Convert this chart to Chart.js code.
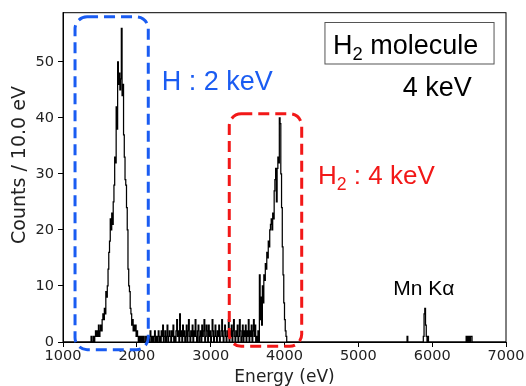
<!DOCTYPE html>
<html>
<head>
<meta charset="utf-8">
<script src="https://cdn.jsdelivr.net/npm/chart.js@4.4.0/dist/chart.umd.min.js"></script>
<style>
  html, body { margin: 0; padding: 0; background: #fff; }
  #wrap { width: 526px; height: 386px; }
</style>
</head>
<body>
<div id="wrap"><canvas id="spectrum"></canvas></div>
<script>
// histogram, 10 eV bins
const binWidth = 10;
const energyMin = 1000;
const energyMax = 7000;
const countMax = 58.8;
const xTicks = [1000, 2000, 3000, 4000, 5000, 6000, 7000];
const yTicks = [0, 10, 20, 30, 40, 50];

// H peak (~2 keV), 1380 - 2050 eV
const hStart = 1380;
const hCounts = [
  1, 0, 0, 1, 0, 1, 2, 1, 2, 1,
  3, 1, 2, 3, 2, 4, 5, 4, 6, 5,
  9, 8, 10, 13, 16, 18, 22, 20, 23, 21,
  25, 28, 33, 32, 42, 38, 50, 46, 48, 45,
  47, 56, 44, 46, 37, 33, 29, 28, 24, 20,
  13, 10, 9, 6, 5, 3, 4, 2, 3, 2,
  3, 1, 2, 1, 0, 1, 0, 1
];

// background between the peaks, 2060 - 3650 eV
const bgStart = 2060;
const bgCounts = [
  0, 1, 0, 1, 0, 0, 1, 0, 1, 0,
  1, 0, 2, 1, 0, 1, 0, 1, 2, 0,
  1, 0, 1, 2, 0, 1, 0, 2, 1, 3,
  0, 1, 2, 0, 1, 3, 0, 1, 2, 1,
  0, 2, 1, 3, 0, 1, 0, 2, 4, 1,
  2, 0, 5, 1, 2, 0, 3, 1, 2, 0,
  1, 3, 0, 2, 4, 1, 0, 2, 1, 3,
  0, 2, 1, 4, 1, 0, 2, 3, 0, 1,
  2, 0, 3, 1, 2, 4, 0, 1, 3, 2,
  0, 3, 1, 2, 0, 1, 4, 2, 0, 1,
  3, 1, 0, 2, 1, 3, 0, 1, 2, 4,
  1, 0, 2, 3, 1, 0, 2, 1, 4, 0,
  2, 1, 3, 0, 2, 4, 1, 0, 2, 1,
  3, 0, 1, 4, 2, 0, 1, 3, 0, 2,
  1, 3, 0, 2, 1, 4, 0, 2, 1, 3,
  0, 2, 4, 1, 3, 0, 1, 0, 2, 0
];

// H2 peak (~4 keV), 3660 - 4030 eV
const h2Start = 3660;
const h2Counts = [
  12, 4, 8, 3, 10, 7, 12, 11, 14, 13,
  16, 15, 18, 17, 20, 21, 22, 20, 23, 22,
  27, 29, 31, 25, 31, 33, 32, 40, 39, 30,
  24, 17, 12, 7, 4, 2, 1, 0
];

// Mn Ka and stray counts
const mnStart = 5880;
const mnCounts = [1, 5, 6, 3, 1, 0, 1];
const strayStart = 5660;
const strayCounts = [1];
const tailStart = 6460;
const tailCounts = [1, 0, 1, 0, 1, 0, 1, 1];

const counts = {};
function addSegment(start, values) {
  values.forEach((v, i) => { counts[start + i * binWidth] = v; });
}
addSegment(hStart, hCounts);
addSegment(bgStart, bgCounts);
addSegment(h2Start, h2Counts);
addSegment(strayStart, strayCounts);
addSegment(mnStart, mnCounts);
addSegment(tailStart, tailCounts);

const points = [];
for (let e = energyMin; e < energyMax; e += binWidth) {
  points.push({ x: e, y: counts[e] || 0 });
}
points.push({ x: energyMax, y: 0 });

const textColor = '#222';
const blue = '#1a5cf2';
const red = '#f21818';
const annoFont = '"Liberation Sans", Arial, sans-serif';

// text with optional subscript parts: [[text, isSub], ...]
function drawParts(ctx, parts, x, y, size, color) {
  ctx.fillStyle = color;
  ctx.textBaseline = 'alphabetic';
  ctx.textAlign = 'left';
  let cx = x;
  parts.forEach(([t, sub]) => {
    const s = sub ? size * 0.68 : size;
    ctx.font = s + 'px ' + annoFont;
    ctx.fillText(t, cx, sub ? y + size * 0.22 : y);
    cx += ctx.measureText(t).width;
  });
}

function dashedBox(ctx, x0, y0, x1, y1, color) {
  ctx.save();
  ctx.strokeStyle = color;
  ctx.lineWidth = 3;
  ctx.setLineDash([11, 6]);
  ctx.beginPath();
  ctx.roundRect(x0, y0, x1 - x0, y1 - y0, 12);
  ctx.stroke();
  ctx.restore();
}

const annotations = {
  id: 'annotations',
  afterDatasetsDraw(chart) {
    const { ctx, chartArea } = chart;
    const sx = chart.scales.x, sy = chart.scales.y;
    const px = v => sx.getPixelForValue(v);
    const py = v => sy.getPixelForValue(v);

    // full frame like matplotlib
    ctx.save();
    ctx.strokeStyle = '#000';
    ctx.lineWidth = 1;
    ctx.strokeRect(chartArea.left, chartArea.top, chartArea.right - chartArea.left, chartArea.bottom - chartArea.top);

    // y axis label, set a little above the axis middle as in the original
    ctx.save();
    ctx.translate(20, py(31.6));
    ctx.rotate(-Math.PI / 2);
    ctx.font = '19px "DejaVu Sans", sans-serif';
    ctx.fillStyle = textColor;
    ctx.textAlign = 'center';
    ctx.textBaseline = 'middle';
    ctx.fillText('Counts / 10.0 eV', 0, 0);
    ctx.restore();

    dashedBox(ctx, px(1163), py(58.06), px(2155), py(-1.37), blue);
    dashedBox(ctx, px(3252), py(40.75), px(4233), py(-0.78), red);

    drawParts(ctx, [['H : 2 keV', false]], px(2337), py(45.0), 27, blue);
    drawParts(ctx, [['H', false], ['2', true], [' : 4 keV', false]], px(4454), py(28.2), 26, red);

    ctx.strokeStyle = '#555';
    ctx.lineWidth = 1;
    ctx.strokeRect(px(4548), py(57.05), px(6838) - px(4548), py(49.64) - py(57.05));
    drawParts(ctx, [['H', false], ['2', true], [' molecule', false]], px(4657), py(51.4), 27, '#000');
    drawParts(ctx, [['4 keV', false]], px(5601), py(44.0), 27, '#000');
    drawParts(ctx, [['Mn K\u03b1', false]], px(5474), py(8.4), 21, '#000');
    ctx.restore();
  }
};

const tickFont = { family: '"DejaVu Sans", sans-serif', size: 14.5 };
const titleFont = { family: '"DejaVu Sans", sans-serif', size: 17, lineHeight: 1 };

new Chart(document.getElementById('spectrum'), {
  type: 'line',
  data: {
    datasets: [{
      data: points,
      stepped: true,
      borderColor: '#000',
      borderWidth: 1.25,
      pointRadius: 0,
      fill: false
    }]
  },
  options: {
    responsive: true,
    maintainAspectRatio: false,
    animation: false,
    layout: { padding: { top: 12, right: 20, left: 0, bottom: 0 } },
    plugins: { legend: { display: false }, tooltip: { enabled: false } },
    scales: {
      x: {
        type: 'linear',
        min: energyMin,
        max: energyMax,
        afterBuildTicks: scale => { scale.ticks = xTicks.map(v => ({ value: v })); },
        afterFit: scale => { scale.height = 44; },
        ticks: { color: textColor, font: tickFont, padding: 1, maxRotation: 0, callback: v => v },
        grid: { drawOnChartArea: false, drawTicks: true, tickLength: 5, color: '#000' },
        border: { display: true, color: '#000', width: 1 },
        title: { display: true, text: 'Energy (eV)', color: textColor, font: titleFont, padding: { top: 0, bottom: 0 } }
      },
      y: {
        min: 0,
        max: countMax,
        afterBuildTicks: scale => { scale.ticks = yTicks.map(v => ({ value: v })); },
        afterFit: scale => { scale.width = 63; },
        ticks: { color: textColor, font: tickFont, padding: 4, callback: v => v },
        grid: { drawOnChartArea: false, drawTicks: true, tickLength: 5, color: '#000' },
        border: { display: true, color: '#000', width: 1 },
        title: { display: false }
      }
    }
  },
  plugins: [annotations]
});
</script>
</body>
</html>
